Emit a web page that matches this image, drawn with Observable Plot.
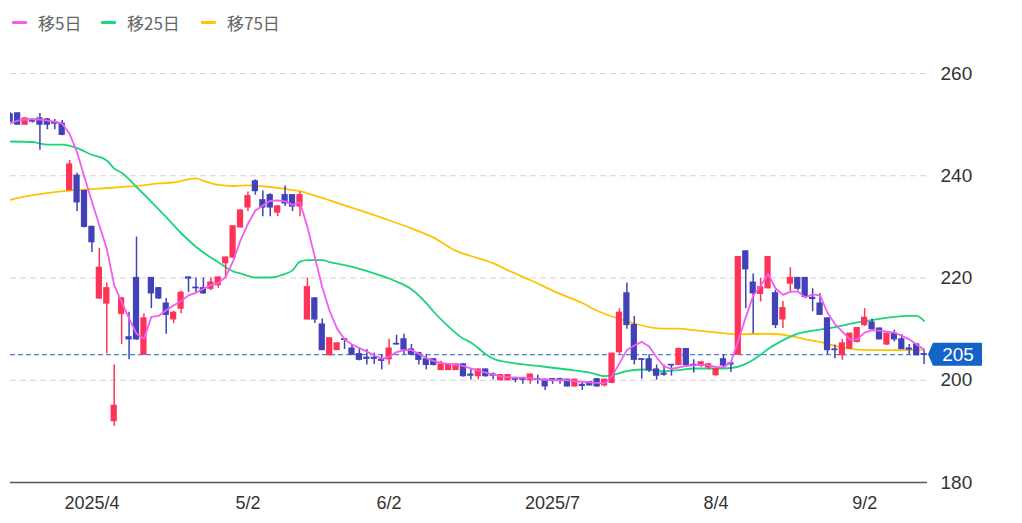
<!DOCTYPE html>
<html>
<head>
<meta charset="utf-8">
<script src="https://cdn.jsdelivr.net/npm/d3@7"></script>
<script src="https://cdn.jsdelivr.net/npm/@observablehq/plot@0.6"></script>
<style>
  html, body { margin: 0; padding: 0; background: #fff; }
  #wrap { width: 1022px; height: 523px; position: relative; overflow: hidden; }
  #legend { position: relative; height: 44px; font-family: "Noto Sans CJK JP", "Noto Sans", sans-serif; font-size: 17px; color: #666; }
  .item { position: absolute; top: 0; height: 44px; display: flex; align-items: center; }
  .sw { width: 15px; height: 3px; border-radius: 1px; margin-right: 11px; }
</style>
</head>
<body>
<div id="wrap">
  <div id="legend"></div>
  <div id="chart"></div>
</div>
<script>
// ---- data ----
const open = [
  252, 252.2, 250, 250.8, 251.2, 251, 250.5, 250.2, 237.2, 240,
  237, 230, 216, 215, 192, 213, 208.4, 220, 205, 220,
  218, 215, 211.9, 214, 220.1, 218.1, 218, 217.9, 218.6, 222.9,
  224, 229.9, 233.8, 238.9, 235.2, 236.2, 232.8, 236.2, 236.2, 234,
  211.9, 216, 210.9, 204.9, 205.9, 208, 206.2, 205.1, 204.4, 204.4,
  204, 204.1, 207.1, 208, 206, 205.3, 204.1, 204.1, 202, 202,
  202, 203.1, 201.1, 200.8, 202.1, 201.1, 200, 200, 200.2, 200.2,
  200, 200.2, 200.1, 200.2, 200.2, 200.1, 198.8, 199.1, 199.6, 200.2,
  199, 199.5, 205.5, 217, 210.8, 204.1, 204.1, 202.1, 201.3, 203,
  203, 206.1, 203, 202.9, 202.5, 201, 204.1, 203.3, 205, 225.2,
  219.1, 216.9, 218, 217, 211.9, 218.9, 220, 220, 216.1, 215,
  212.1, 206, 204.9, 206.2, 207.5, 210.8, 211.3, 210.1, 207, 209.1,
  208, 206.2, 207, 205.1
];
const high = [
  252.3, 252.3, 251.3, 251.2, 252.2, 251.2, 251, 250.8, 243, 240.5,
  237.2, 230.1, 225.8, 219, 203, 216.2, 213.3, 228, 213, 220.1,
  218.1, 216, 213.5, 217.4, 220.2, 220, 220, 220, 220.2, 224.1,
  230.2, 233.3, 236.8, 239.2, 237, 236.5, 234.2, 238, 236.3, 236.8,
  220, 216.2, 212, 208.3, 207.3, 208.1, 207, 206.2, 206, 205.3,
  205, 208, 208.8, 209, 207, 205.5, 205, 204.2, 203.7, 203.1,
  203.1, 203.2, 202.1, 202.2, 202.2, 201.4, 201.1, 201.1, 200.6, 200.6,
  201.2, 201, 200.2, 200.3, 200.4, 200.2, 200.2, 199.6, 199.7, 200.3,
  200.2, 205.3, 214, 219, 212.5, 204.2, 205, 203, 203, 203,
  206.3, 206.2, 204, 203.7, 203.3, 202.4, 205, 203.5, 224.2, 225.3,
  220.8, 219.9, 224.2, 217.6, 215.4, 222, 220.1, 220.1, 217.9, 216.9,
  212.2, 206.9, 208, 209.2, 210.3, 214, 212, 210.2, 209.2, 209.8,
  208.9, 207, 207.1, 205.9
];
const low = [
  250.4, 249.9, 249.9, 250.3, 245, 249, 249, 247.8, 237, 233,
  229.8, 225, 215.8, 205.2, 191, 207, 204, 207.8, 204.9, 214,
  215.8, 209, 211.1, 213, 217.2, 217, 216.8, 217.5, 218, 219.8,
  223.8, 229.8, 233, 236.2, 232, 232, 232, 234, 233, 232,
  211.8, 211.1, 205.8, 204.8, 205.8, 206, 204.8, 203.8, 203, 203.1,
  202, 203, 206.9, 205, 204.8, 203, 202, 202.8, 201.9, 202,
  201.9, 200.6, 200.1, 200.1, 200.6, 200.1, 199.9, 199.9, 199.5, 199.2,
  199.2, 199.2, 198, 199.2, 199.2, 198.7, 198.7, 198, 198.9, 198.7,
  198.7, 199.3, 205, 210, 203, 200.2, 201.5, 200, 200.8, 200.8,
  202.9, 202.5, 201.4, 202.5, 202, 200.8, 202.5, 201.5, 205, 214,
  209.1, 215.3, 217.9, 210.1, 210.1, 217.2, 217.5, 216, 213.4, 212.7,
  205, 204.2, 203.9, 206, 207.3, 210.5, 209.8, 207.9, 206.8, 207.5,
  206, 205, 204.8, 203.1
];
const close = [
  250.6, 250, 251.2, 250.6, 250, 250, 250.2, 248, 242.2, 234.8,
  230, 227, 222, 218, 195, 216, 208, 208, 212.1, 217,
  216, 212.8, 213.2, 217.1, 219.9, 218, 217, 219.1, 220.1, 224,
  230.1, 233.2, 236, 237, 233.8, 233.8, 234, 234.6, 234, 236.2,
  218.2, 211.9, 205.9, 208.2, 207.2, 207.9, 205, 204, 204.2, 204.2,
  203.8, 206.2, 207, 206, 205, 204, 203, 203, 203.1, 203,
  203.1, 200.8, 200.9, 202.1, 200.8, 200.9, 201, 201, 200.1, 200.1,
  201.1, 200.1, 198.8, 200.1, 200.1, 198.8, 200.1, 198.9, 199, 198.8,
  200.1, 205.2, 213.2, 210.8, 204, 204, 202, 200.9, 201.1, 202.9,
  206.1, 203, 202.9, 203.5, 203.1, 202.2, 202.9, 203.1, 224.1, 221.7,
  217, 218.2, 224.1, 210.8, 214.1, 220, 217.9, 216.3, 215.9, 212.8,
  205.9, 205.9, 207.2, 209.1, 210.2, 212.2, 210, 208, 209.1, 208,
  206.1, 206, 204.9, 205
];
// 5-day moving average, one value per trading day
const ma5 = [
  250.2, 250.8, 251, 251.1, 251, 250.8, 250.6, 250.2, 248.2, 244.6,
  239.7, 234.9, 230.3, 225.7, 218.6, 215.3, 212.1, 209.1, 208.1, 212.4,
  212.6, 213.7, 214.6, 215.5, 216.6, 217.1, 217.9, 218.6, 219, 220.2,
  223.3, 227.4, 230.6, 233.2, 234.2, 235.1, 235.2, 235, 234.3, 234.8,
  230, 224.1, 218.2, 213.5, 210.1, 208, 207, 206.3, 205.6, 204.9,
  204.2, 204.6, 205.5, 205.9, 205.9, 205.2, 204.3, 203.8, 203.4, 203.2,
  203, 202.8, 202.3, 201.9, 201.5, 201.1, 200.8, 200.6, 200.5, 200.5,
  200.4, 200.2, 200.1, 200, 200, 200, 199.8, 199.7, 199.6, 199.5,
  199.4, 200.8, 203.3, 205.9, 206.8, 207.5, 206.6, 204.5, 202.7, 202.2,
  202.5, 202.8, 202.9, 203, 202.9, 202.6, 202.5, 203.5, 207.8, 212.3,
  216.5, 218.5, 220.8, 218, 216.7, 217.3, 217.4, 216.2, 216.8, 216.6,
  213.2, 211, 209.5, 208, 208, 209.3, 209.8, 209.7, 209.5, 209.3,
  208.7, 208, 207, 206
];
// 25-day and 75-day moving averages: [trading-day index, value]
const ma25 = [
  [0,246.7],[3,246.6],[5,246.1],[7,246.1],[9,245.4],[11,244.1],[13,243],[14,241.4],[15,240.6],[17,237.8],
  [19,234.9],[21,231.9],[23,228.8],[25,226.1],[27,224],[28,223.1],[30,221.3],[31,220.9],[33,220.1],[35,220.1],
  [37,220.8],[38,221.5],[39,223.2],[40,223.5],[42,223.5],[43,223.1],[45,222.5],[47,221.8],[49,220.9],[51,219.9],
  [52,219.3],[54,217.8],[56,215.1],[57,213.4],[59,210.5],[61,208.1],[62,207.4],[64,205.1],[65,204.2],[68,203.3],
  [71,202.8],[75,202.1],[78,201.5],[80,200.8],[81,201],[82,201.4],[83,201.8],[85,202.1],[88,201.8],[90,202],
  [92,202.3],[95,202.3],[97,202.4],[99,203.2],[100,204],[101,205],[102,206.1],[104,207.8],[106,209.1],[109,209.9],
  [111,210.4],[114,211.3],[117,212],[119,212.4],[121,212.6],[122,212.6],[123,211.6]
];
const ma75 = [
  [0,235.3],[3,236.2],[8,237.1],[12,237.5],[17,238],[20,238.5],[22,238.7],[24,239.3],[25,239.5],[26,239],
  [28,238.2],[30,238],[32,238.1],[35,237.8],[38,237.2],[39,237],[41,236.1],[43,235.2],[45,234.2],[48,232.8],
  [51,231.3],[54,229.7],[57,227.9],[60,225.3],[62,224.3],[65,222.9],[67,221.5],[70,219.6],[74,216.9],[77,215.1],
  [79,213.6],[82,212],[84,211.1],[86,210.4],[88,210.1],[90,210.1],[92,209.8],[96,209.2],[98,209],[102,209.1],
  [105,208.7],[107,208],[109,207.5],[112,206.4],[114,206],[118,205.9],[123,206]
];
const tickIdx = [11, 32, 51, 73, 95, 115];
const tickLabels = ["2025/4", "5/2", "6/2", "2025/7", "8/4", "9/2"];
const yTicks = [180, 200, 220, 240, 260];
const gridVals = [200, 220, 240, 260];
const lastPrice = 205;
const legendItems = [
  {label: "移5日", color: "#f25cf2", left: 12},
  {label: "移25日", color: "#1ed47a", left: 101},
  {label: "移75日", color: "#ffc400", left: 201}
];

// ---- build ----
const UP = "#ff3358", DOWN = "#4141b8";
const candles = open.map((o, i) => ({i, open: o, high: high[i], low: low[i], close: close[i],
  color: close[i] > o ? UP : DOWN}));
const ma5Rows = ma5.map((v, i) => ({i, v}));

const legend = document.getElementById("legend");
for (const it of legendItems) {
  const d = document.createElement("div");
  d.className = "item";
  d.style.left = it.left + "px";
  d.innerHTML = `<span class="sw" style="background:${it.color}"></span><span>${it.label}</span>`;
  legend.appendChild(d);
}

const W = 1022, H = 479, mL = 10, mR = 95;
const chart = Plot.plot({
  width: W, height: H,
  marginLeft: mL, marginRight: mR, marginTop: 29, marginBottom: 41,
  style: {fontFamily: "'Liberation Sans', Arial, sans-serif", color: "#333", background: "#fff"},
  x: {domain: [0.04, 123.46], axis: null, label: null},
  y: {domain: [180, 260], axis: null, label: null},
  color: {type: "identity"},
  marks: [
    Plot.ruleY(gridVals, {stroke: "#d4d4d4", strokeWidth: 1.2, strokeDasharray: "6,4"}),
    Plot.ruleY([180], {stroke: "#555", strokeWidth: 1.6}),
    Plot.ruleY([lastPrice], {stroke: "#4a87d6", strokeWidth: 1.3, strokeDasharray: "5,3"}),
    Plot.line(ma75, {x: d => d[0], y: d => d[1], stroke: "#ffc400", strokeWidth: 1.8, curve: "monotone-x", clip: true}),
    Plot.line(ma25, {x: d => d[0], y: d => d[1], stroke: "#1ed47a", strokeWidth: 1.8, curve: "monotone-x", clip: true}),
    Plot.ruleX(candles, {x: "i", y1: "low", y2: "high", stroke: "color", strokeWidth: 1.5, clip: true}),
    Plot.rect(candles, {x1: d => d.i - 0.42, x2: d => d.i + 0.42, y1: "open", y2: "close",
      fill: "color", insetTop: -0.6, insetBottom: -0.6, clip: true}),
    Plot.line(ma5Rows, {x: "i", y: "v", stroke: "#f25cf2", strokeWidth: 1.8, clip: true}),
    Plot.axisX({ticks: tickIdx, tickFormat: d => tickLabels[tickIdx.indexOf(d)], tickSize: 0,
      tickPadding: 14, fontSize: 18, fill: "#333", label: null}),
    Plot.axisY({anchor: "right", ticks: yTicks, tickSize: 0, tickPadding: 13, fontSize: 19, fill: "#333", label: null})
  ]
});
document.getElementById("chart").appendChild(chart);

// current-price tag, positioned via the y scale
const yPos = chart.scale("y").apply(lastPrice);
const x0 = W - mR;
const svg = d3.select(chart);
const g = svg.append("g");
g.append("path")
  .attr("d", `M${x0 + 1},${yPos} L${x0 + 6},${yPos - 11.5} L${x0 + 55},${yPos - 11.5} L${x0 + 55},${yPos + 11.5} L${x0 + 6},${yPos + 11.5} Z`)
  .attr("fill", "#1463c7");
g.append("text")
  .attr("x", x0 + 31).attr("y", yPos).attr("dy", "0.35em")
  .attr("text-anchor", "middle").attr("fill", "#fff")
  .style("font-family", "'Liberation Sans', Arial, sans-serif").style("font-size", "19px")
  .text(String(lastPrice));
</script>
</body>
</html>
